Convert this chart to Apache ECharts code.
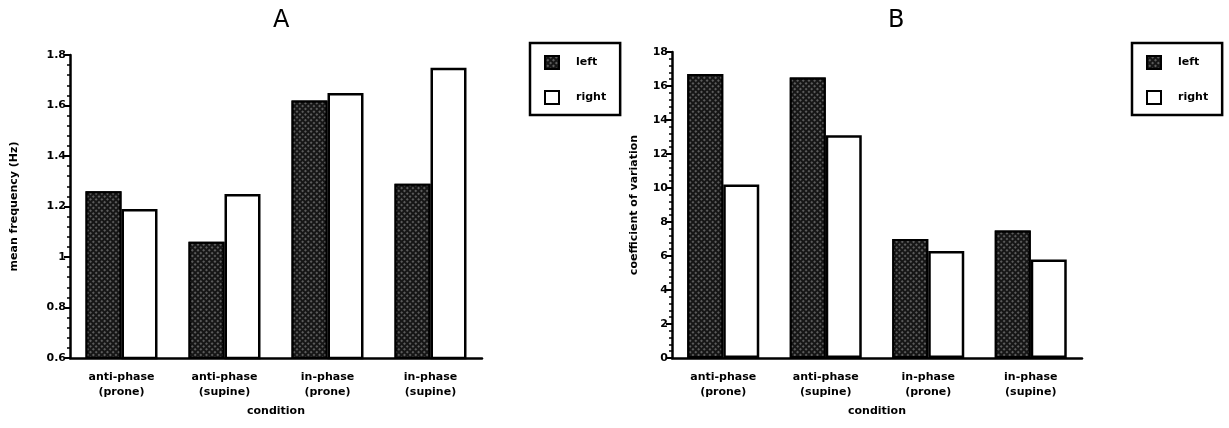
<!DOCTYPE html>
<html>
<head>
<meta charset="utf-8">
<script src="https://cdn.jsdelivr.net/npm/echarts@6/dist/echarts.min.js"></script>
<style>
  html, body { margin: 0; padding: 0; background: #fff; }
  #chart { width: 1229px; height: 428px; }
</style>
</head>
<body>
<div id="chart"></div>
<script>
// Conditions on the x axis (both panels)
const categories = ['anti-phase\n(prone)', 'anti-phase\n(supine)', 'in-phase\n(prone)', 'in-phase\n(supine)'];
const seriesNames = ['left', 'right'];

// Panel A: mean frequency (Hz)
const freqLeft = [1.26, 1.06, 1.62, 1.29];
const freqRight = [1.19, 1.25, 1.65, 1.75];
const freqTicks = { min: 0.6, max: 1.8, interval: 0.2 };

// Panel B: coefficient of variation
const cvLeft = [16.7, 16.5, 7.0, 7.5];
const cvRight = [10.2, 13.1, 6.3, 5.8];
const cvTicks = { min: 0, max: 18, interval: 2 };

const FONT = 'DejaVu Sans';
const INK = '#000';
const textStyle = { fontFamily: FONT, fontSize: 11, fontWeight: 'bold', color: INK };

const darkFill = {
  color: '#161616',
  borderColor: '#000',
  borderWidth: 2,
  decal: {
    symbol: 'rect',
    symbolSize: 0.8,
    color: 'rgba(255,255,255,0.5)',
    dashArrayX: [2, 2],
    dashArrayY: [2, 2],
    rotation: Math.PI / 4
  }
};
const openFill = { color: '#fff', borderColor: '#000', borderWidth: 2.5 };

function xAxis(gridIndex) {
  return {
    type: 'category',
    gridIndex,
    data: categories,
    name: 'condition',
    nameLocation: 'middle',
    nameGap: 48,
    nameTextStyle: textStyle,
    axisLine: { lineStyle: { color: '#000', width: 2.5 } },
    axisTick: { alignWithLabel: true, length: 6, lineStyle: { color: '#000', width: 2 } },
    axisLabel: Object.assign({ margin: 12, lineHeight: 15 }, textStyle),
    splitLine: { show: false }
  };
}

function yAxis(gridIndex, ticks, name, gap) {
  return {
    type: 'value',
    gridIndex,
    min: ticks.min,
    max: ticks.max,
    interval: ticks.interval,
    name,
    nameLocation: 'middle',
    nameGap: gap,
    nameTextStyle: textStyle,
    axisLine: { show: true, lineStyle: { color: '#000', width: 2.5 } },
    axisTick: { show: true, length: 6, lineStyle: { color: '#000', width: 2 } },
    minorTick: { show: true, splitNumber: 5, length: 3, lineStyle: { color: '#000', width: 1.5 } },
    axisLabel: Object.assign({ margin: 4 }, textStyle),
    splitLine: { show: false }
  };
}

function legend(left) {
  return {
    orient: 'vertical',
    left,
    top: 43,
    data: seriesNames,
    icon: 'rect',
    itemWidth: 14,
    itemHeight: 13,
    itemGap: 20,
    padding: [12, 14, 10, 14],
    borderColor: '#000',
    borderWidth: 2.5,
    selectedMode: false,
    textStyle: Object.assign({ padding: [0, 0, 0, 12] }, textStyle)
  };
}

function bar(name, data, axisIndex, style) {
  return {
    type: 'bar',
    name,
    data,
    xAxisIndex: axisIndex,
    yAxisIndex: axisIndex,
    barWidth: 36,
    barGap: '0%',
    itemStyle: style,
    emphasis: { disabled: true },
    animation: false
  };
}

const chart = echarts.init(document.getElementById('chart'), null, { renderer: 'canvas' });
chart.setOption({
  backgroundColor: '#fff',
  animation: false,
  title: [
    { text: 'A', left: 268, top: 4, textStyle: { fontFamily: FONT, fontSize: 24, fontWeight: 'normal', color: INK } },
    { text: 'B', left: 883, top: 4, textStyle: { fontFamily: FONT, fontSize: 24, fontWeight: 'normal', color: INK } }
  ],
  legend: [legend(530), legend(1132)],
  grid: [
    { left: 70, top: 55, width: 412, height: 303 },
    { left: 672, top: 52, width: 410, height: 306 }
  ],
  xAxis: [xAxis(0), xAxis(1)],
  yAxis: [
    yAxis(0, freqTicks, 'mean frequency (Hz)', 50),
    yAxis(1, cvTicks, 'coefficient of variation', 32)
  ],
  series: [
    bar('left', freqLeft, 0, darkFill),
    bar('right', freqRight, 0, openFill),
    bar('left', cvLeft, 1, darkFill),
    bar('right', cvRight, 1, openFill)
  ]
});
</script>
</body>
</html>
